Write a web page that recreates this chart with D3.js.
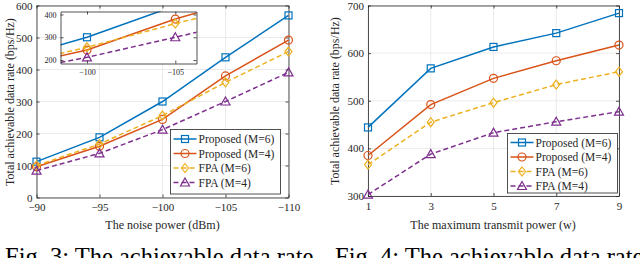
<!DOCTYPE html>
<html>
<head>
<meta charset="utf-8">
<script src="https://cdn.jsdelivr.net/npm/d3@7"></script>
<style>
body { margin: 0; background: #fff; overflow: hidden; }
text { font-family: "Liberation Serif", "Times New Roman", serif; fill: #262626; }
</style>
</head>
<body>
<div id="chart"></div>
<script>
var width = 640,
    height = 258;

// Fig. 3 data: rate vs noise power
var noise = [-90, -95, -100, -105, -110];
var noiseProp6 = [112, 188, 300, 438, 569];
var noiseProp4 = [96, 160, 244, 380, 492];
var noiseFpa6 = [100, 167, 256, 360, 456];
var noiseFpa4 = [84, 138, 212, 300, 391];
var noiseXTicks = [-90, -95, -100, -105, -110];
var noiseYTicks = [0, 100, 200, 300, 400, 500, 600];
var insetXTicks = [-100, -105];
var insetYTicks = [200, 300, 400];

// Fig. 4 data: rate vs max transmit power
var power = [1, 3, 5, 7, 9];
var powProp6 = [444, 568, 613, 642, 684];
var powProp4 = [385, 492, 547, 584, 617];
var powFpa6 = [366, 455, 496, 534, 561];
var powFpa4 = [303, 388, 433, 456, 477];
var powXTicks = [1, 3, 5, 7, 9];
var powYTicks = [300, 400, 500, 600, 700];

var seriesNames = ["Proposed (M=6)", "Proposed (M=4)", "FPA (M=6)", "FPA (M=4)"];
var colors = ["#0072BD", "#D95319", "#EDB120", "#7E2F8E"];
var markers = ["square", "circle", "diamond", "triangle"];
var dashed = [false, false, true, true];

var svg = d3.select("#chart").append("svg")
    .attr("width", width)
    .attr("height", height);

function drawMarker(g, type, x, y, color) {
  if (type == "square") {
    g.append("rect").attr("x", x - 3.5).attr("y", y - 3.5).attr("width", 7).attr("height", 7)
      .attr("fill", "none").attr("stroke", color).attr("stroke-width", 1.2);
  } else if (type == "circle") {
    g.append("circle").attr("cx", x).attr("cy", y).attr("r", 4)
      .attr("fill", "none").attr("stroke", color).attr("stroke-width", 1.2);
  } else if (type == "diamond") {
    g.append("path").attr("d", "M" + x + "," + (y - 4.5) + "L" + (x + 3.5) + "," + y + "L" + x + "," + (y + 4.5) + "L" + (x - 3.5) + "," + y + "Z")
      .attr("fill", "none").attr("stroke", color).attr("stroke-width", 1.2);
  } else {
    g.append("path").attr("d", "M" + x + "," + (y - 4.5) + "L" + (x + 4.5) + "," + (y + 3.5) + "L" + (x - 4.5) + "," + (y + 3.5) + "Z")
      .attr("fill", "none").attr("stroke", color).attr("stroke-width", 1.2);
  }
}

function drawSeries(g, xs, ys, x, y, i) {
  var line = d3.line().x(function(d, k) { return x(xs[k]); }).y(function(d) { return y(d); });
  g.append("path").datum(ys)
    .attr("d", line)
    .attr("fill", "none")
    .attr("stroke", colors[i])
    .attr("stroke-width", 1.5)
    .attr("stroke-dasharray", dashed[i] ? "5,3" : null);
  ys.forEach(function(v, k) { drawMarker(g, markers[i], x(xs[k]), y(v), colors[i]); });
}

function drawFrame(g, x, y, xticks, yticks, fontSize, grid) {
  var x0 = x.range()[0], x1 = x.range()[1], y0 = y.range()[0], y1 = y.range()[1];
  if (grid) {
    g.selectAll(".gx").data(xticks).enter().append("line")
      .attr("x1", function(d) { return x(d); }).attr("x2", function(d) { return x(d); })
      .attr("y1", y0).attr("y2", y1).attr("stroke", "#e6e6e6").attr("stroke-width", 0.8);
    g.selectAll(".gy").data(yticks).enter().append("line")
      .attr("y1", function(d) { return y(d); }).attr("y2", function(d) { return y(d); })
      .attr("x1", x0).attr("x2", x1).attr("stroke", "#e6e6e6").attr("stroke-width", 0.8);
  }
  var xAxis = g.append("g").attr("transform", "translate(0," + y0 + ")")
    .call(d3.axisBottom(x).tickValues(xticks).tickSizeInner(-3).tickSizeOuter(0).tickPadding(6));
  var xTop = g.append("g").attr("transform", "translate(0," + y1 + ")")
    .call(d3.axisTop(x).tickValues(xticks).tickSizeInner(-3).tickSizeOuter(0).tickFormat(""));
  var yAxis = g.append("g").attr("transform", "translate(" + x0 + ",0)")
    .call(d3.axisLeft(y).tickValues(yticks).tickSizeInner(-3).tickSizeOuter(0).tickPadding(4));
  var yRight = g.append("g").attr("transform", "translate(" + x1 + ",0)")
    .call(d3.axisRight(y).tickValues(yticks).tickSizeInner(-3).tickSizeOuter(0).tickFormat(""));
  [xAxis, xTop, yAxis, yRight].forEach(function(a) {
    a.selectAll("path, line").attr("stroke", "#262626").attr("stroke-width", 0.8);
    a.selectAll("text").attr("font-size", fontSize).attr("font-family", "Liberation Serif").attr("fill", "#262626");
  });
}

function drawLegend(g, lx, ly, w, h, rows) {
  g.append("rect").attr("x", lx).attr("y", ly).attr("width", w).attr("height", h)
    .attr("fill", "#fff").attr("stroke", "#262626").attr("stroke-width", 0.8);
  seriesNames.forEach(function(name, i) {
    var ry = rows[i];
    g.append("line").attr("x1", lx + 3).attr("x2", lx + 26).attr("y1", ry).attr("y2", ry)
      .attr("stroke", colors[i]).attr("stroke-width", 1.5)
      .attr("stroke-dasharray", dashed[i] ? "5,3" : null);
    drawMarker(g, markers[i], lx + 14.5, ry, colors[i]);
    g.append("text").attr("x", lx + 28).attr("y", ry + 4).attr("font-size", 11.5).text(name);
  });
}

// ---- Fig. 3 ----
var g1 = svg.append("g");
var x1 = d3.scaleLinear().domain([-90, -110]).range([36.5, 288.5]);
var y1 = d3.scaleLinear().domain([0, 600]).range([197.5, 5.5]);
drawFrame(g1, x1, y1, noiseXTicks, noiseYTicks, 11, true);
var noiseData = [noiseProp6, noiseProp4, noiseFpa6, noiseFpa4];
noiseData.forEach(function(ys, i) { drawSeries(g1, noise, ys, x1, y1, i); });

// inset zoom
var ix = d3.scaleLinear().domain([-98.5, -106.2]).range([60.5, 196.5]);
var iy = d3.scaleLinear().domain([185, 413]).range([63.5, 11.5]);
g1.append("rect").attr("x", 60.5).attr("y", 11.5).attr("width", 136).attr("height", 52).attr("fill", "#fff");
svg.append("clipPath").attr("id", "insetclip").append("rect")
  .attr("x", 60.5).attr("y", 11.5).attr("width", 136).attr("height", 52);
var gi = g1.append("g").attr("clip-path", "url(#insetclip)");
noiseData.forEach(function(ys, i) { drawSeries(gi, noise, ys, ix, iy, i); });
drawFrame(g1, ix, iy, insetXTicks, insetYTicks, 8, false);

drawLegend(g1, 170.5, 129.5, 110, 64.5, [139, 153.5, 168, 182.5]);

g1.append("text").attr("x", 162.5).attr("y", 229).attr("text-anchor", "middle")
  .attr("font-size", 12).text("The noise power (dBm)");
g1.append("text").attr("transform", "translate(14,102) rotate(-90)").attr("text-anchor", "middle")
  .attr("font-size", 12).text("Total achievable data rate (bps/Hz)");

// ---- Fig. 4 ----
var g2 = svg.append("g");
var x2 = d3.scaleLinear().domain([1, 9]).range([368, 619]);
var y2 = d3.scaleLinear().domain([300, 700]).range([196, 5.5]);
drawFrame(g2, x2, y2, powXTicks, powYTicks, 11, true);
var powData = [powProp6, powProp4, powFpa6, powFpa4];
powData.forEach(function(ys, i) { drawSeries(g2, power, ys, x2, y2, i); });

drawLegend(g2, 507.5, 133.5, 110, 59.5, [142.5, 157, 171.5, 186]);

g2.append("text").attr("x", 493).attr("y", 229).attr("text-anchor", "middle")
  .attr("font-size", 12).text("The maximum transmit power (w)");
g2.append("text").attr("transform", "translate(339,101) rotate(-90)").attr("text-anchor", "middle")
  .attr("font-size", 12).text("Total achievable data rate (bps/Hz)");

// captions (cut by page edge, as in the source page)
svg.append("text").attr("x", 5).attr("y", 265).attr("font-size", 24.5).style("fill", "#000")
  .text("Fig. 3: The achievable data rate");
svg.append("text").attr("x", 335).attr("y", 265).attr("font-size", 24.5).style("fill", "#000")
  .text("Fig. 4: The achievable data rate");
</script>
</body>
</html>
